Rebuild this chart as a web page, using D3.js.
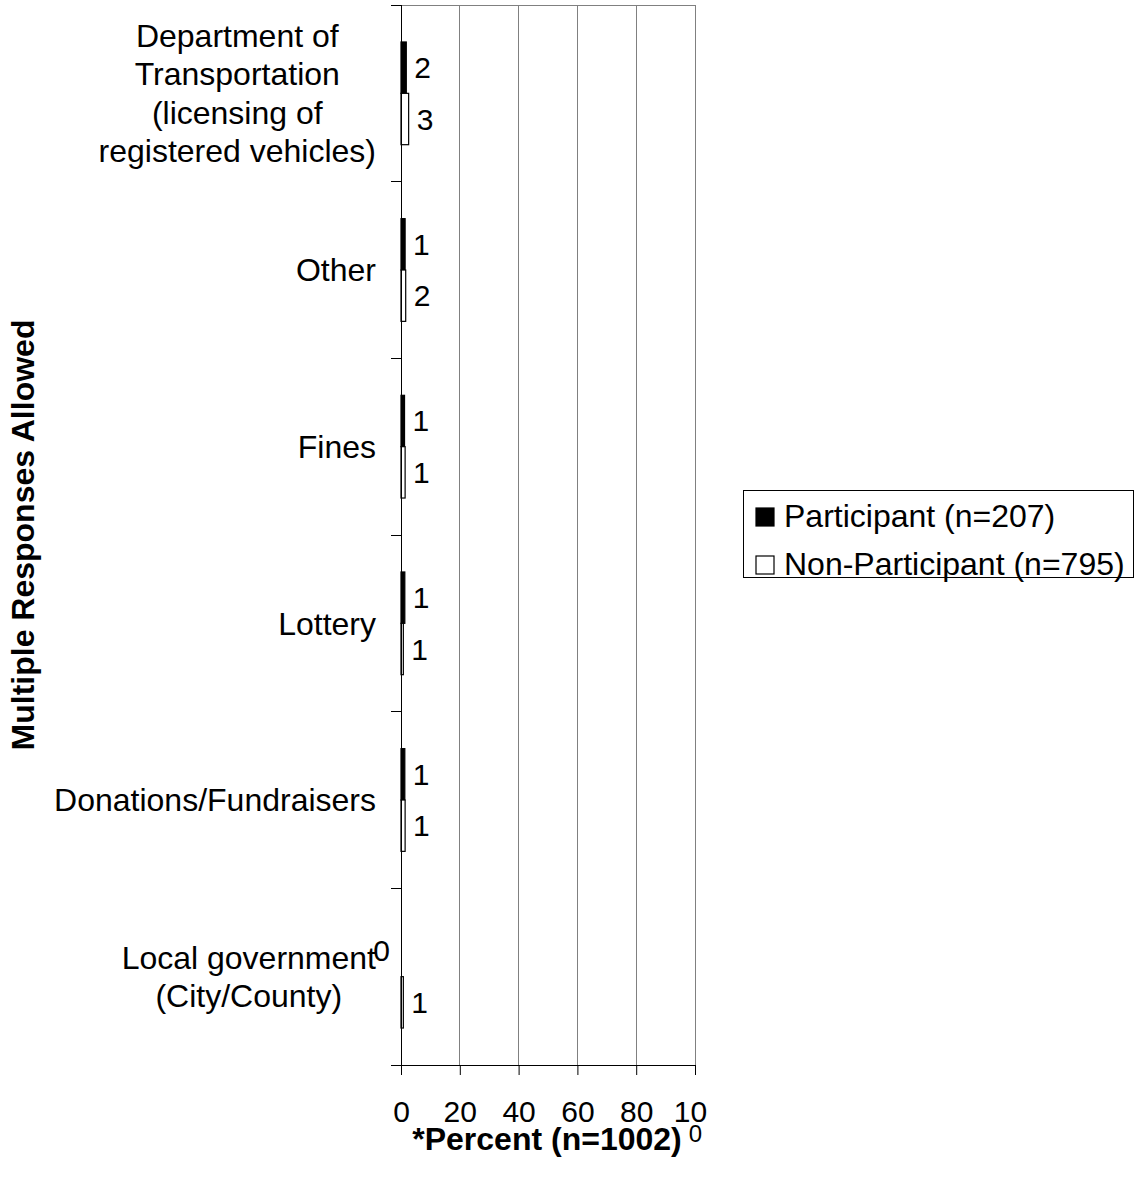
<!DOCTYPE html>
<html>
<head>
<meta charset="utf-8">
<script src="https://cdn.jsdelivr.net/npm/d3@7"></script>
<style>
  html, body { margin: 0; padding: 0; background: #fff; }
  svg { display: block; font-family: "Liberation Sans", Arial, sans-serif; }
</style>
</head>
<body>
<svg id="chart" width="1136" height="1187"></svg>
<script>
// Funding sources, top to bottom
const categories = [
  "Department of Transportation (licensing of registered vehicles)",
  "Other",
  "Fines",
  "Lottery",
  "Donations/Fundraisers",
  "Local government (City/County)"
];
const categoryLines = [
  ["Department of", "Transportation", "(licensing of", "registered vehicles)"],
  ["Other"],
  ["Fines"],
  ["Lottery"],
  ["Donations/Fundraisers"],
  ["Local government", "(City/County)"]
];
// Percent of respondents
const participant    = [1.8, 1.4, 1.2, 1.3, 1.3, 0];
const nonParticipant = [2.6, 1.6, 1.4, 0.8, 1.4, 0.8];
const seriesNames = ["Participant (n=207)", "Non-Participant (n=795)"];
const seriesFill = ["#000000", "#ffffff"];
const xTicks = [0, 20, 40, 60, 80, 100];
const xTitle = "*Percent  (n=1002)";
const yTitle = "Multiple Responses Allowed";

const svg = d3.select("#chart");
const plot = { left: 401, right: 695, top: 5, bottom: 1065 };
const FS = 32;

const x = d3.scaleLinear().domain([0, 100]).range([plot.left, plot.right]);
const y = d3.scaleBand().domain(categories).range([plot.top, plot.bottom]);
const ySub = d3.scaleBand().domain(seriesNames).range([0, y.bandwidth()]).paddingOuter(0.72);

const rows = categories.map((c, i) => ({
  cat: c, lines: categoryLines[i],
  vals: [participant[i], nonParticipant[i]]
}));

// Vertical gridlines and plot frame
svg.append("g").selectAll("line").data(xTicks.slice(1)).join("line")
  .attr("x1", d => x(d)).attr("x2", d => x(d))
  .attr("y1", plot.top).attr("y2", plot.bottom)
  .attr("stroke", "#808080").attr("stroke-width", 1).attr("shape-rendering", "crispEdges");
svg.append("line")
  .attr("x1", plot.left).attr("x2", plot.right).attr("y1", plot.top).attr("y2", plot.top)
  .attr("stroke", "#808080").attr("shape-rendering", "crispEdges");

// Bars
const barG = svg.append("g");
rows.forEach(r => {
  r.vals.forEach((v, k) => {
    const y0 = y(r.cat) + ySub(seriesNames[k]);
    if (v > 0) {
      barG.append("rect")
        .attr("x", x(0)).attr("y", y0)
        .attr("width", x(v) - x(0)).attr("height", ySub.bandwidth())
        .attr("fill", seriesFill[k]).attr("stroke", "#000").attr("stroke-width", 1.2);
    }
    const label = barG.append("text")
      .attr("y", y0 + ySub.bandwidth() / 2)
      .attr("dy", "0.35em")
      .attr("font-size", 30).attr("fill", "#000")
      .text(d3.format(".0f")(v));
    if (v > 0) label.attr("x", x(v) + 8).attr("text-anchor", "start");
    else label.attr("x", x(0) - 11).attr("text-anchor", "end");
  });
});

// Y axis (category axis)
const yAxisG = svg.append("g");
yAxisG.append("line")
  .attr("x1", plot.left).attr("x2", plot.left).attr("y1", plot.top).attr("y2", plot.bottom)
  .attr("stroke", "#000").attr("shape-rendering", "crispEdges");
const bounds = categories.map(c => y(c)).concat([plot.bottom]);
yAxisG.selectAll("line.tick").data(bounds).join("line").attr("class", "tick")
  .attr("x1", plot.left - 10).attr("x2", plot.left)
  .attr("y1", d => d).attr("y2", d => d)
  .attr("stroke", "#000").attr("shape-rendering", "crispEdges");

// Category labels: centered lines, block right-aligned to the axis
const lh = 38.5;
rows.forEach(r => {
  const t = svg.append("text").attr("font-size", FS).attr("text-anchor", "middle").attr("fill", "#000");
  const cy = y(r.cat) + y.bandwidth() / 2;
  const n = r.lines.length;
  const spans = r.lines.map((ln, j) => t.append("tspan")
    .attr("y", cy + (j - (n - 1) / 2) * lh).attr("dy", "0.35em").text(ln));
  const maxW = d3.max(spans, s => s.node().getComputedTextLength());
  spans.forEach(s => s.attr("x", 376 - maxW / 2));
});

// X axis
const xAxisG = svg.append("g")
  .attr("transform", `translate(0,${plot.bottom})`)
  .call(d3.axisBottom(x).tickValues(xTicks).tickSize(10).tickFormat(d3.format("d")));
xAxisG.select(".domain").attr("d", `M${plot.left - 10},0.5H${plot.right}`).attr("stroke", "#000");
xAxisG.selectAll(".tick line").attr("stroke", "#000");
xAxisG.selectAll(".tick text")
  .attr("font-size", 30).attr("font-family", "Liberation Sans, Arial, sans-serif").attr("fill", "#000")
  .attr("y", 57).attr("dy", 0);
// The last label wraps onto a second line
xAxisG.selectAll(".tick text").filter(d => d === 100).each(function () {
  const t = d3.select(this).text("");
  t.append("tspan").attr("x", -5).text("10");
  t.append("tspan").attr("x", 0).attr("dy", 20).attr("font-size", 24).text("0");
});

// Axis titles
svg.append("text")
  .attr("x", (plot.left + plot.right) / 2 - 1).attr("y", 1150)
  .attr("text-anchor", "middle").attr("font-size", FS).attr("font-weight", "bold")
  .text(xTitle);
svg.append("text")
  .attr("transform", `translate(34,${(plot.top + plot.bottom) / 2}) rotate(-90)`)
  .attr("text-anchor", "middle").attr("font-size", FS).attr("font-weight", "bold")
  .text(yTitle);

// Legend
const lg = svg.append("g");
lg.append("rect").attr("x", 743.5).attr("y", 490.5).attr("width", 390).attr("height", 87)
  .attr("fill", "#fff").attr("stroke", "#000").attr("stroke-width", 1);
seriesNames.forEach((name, k) => {
  const by = 527 + k * 48;
  lg.append("rect").attr("x", 756).attr("y", by - 19).attr("width", 18).attr("height", 18)
    .attr("fill", seriesFill[k]).attr("stroke", "#000").attr("stroke-width", 1.2);
  lg.append("text").attr("x", 784).attr("y", by).attr("font-size", FS).text(name);
});
</script>
</body>
</html>
